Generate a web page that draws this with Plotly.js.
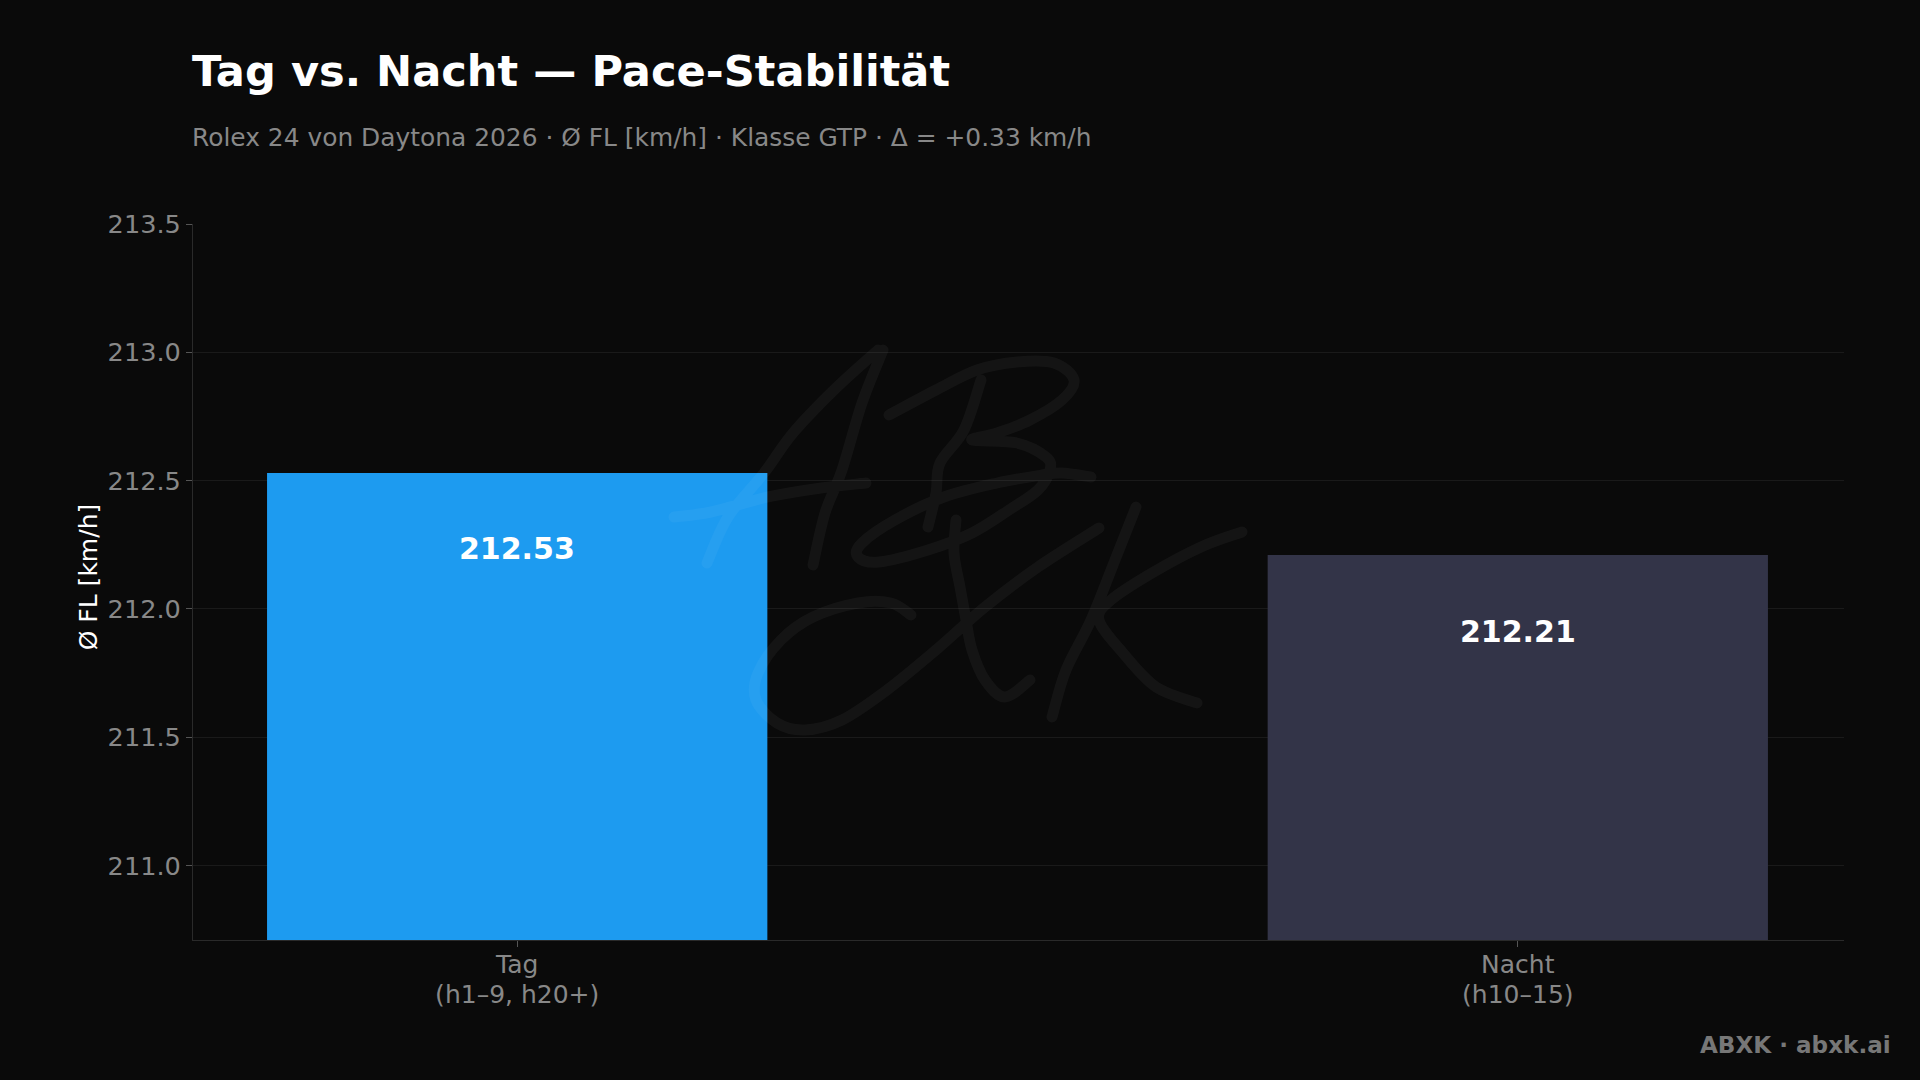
<!DOCTYPE html>
<html><head><meta charset="utf-8">
<script src="https://cdn.plot.ly/plotly-3.0.1.min.js"></script>
<style>html,body{margin:0;padding:0;background:#0a0a0a}
.shapelayer path{stroke-linecap:round;stroke-linejoin:round}</style></head>
<body><div id="chart" style="width:1920px;height:1080px"></div>
<script>
const categories = ['Tag<br>(h1–9, h20+)', 'Nacht<br>(h10–15)'];
const paceValues = [212.53, 212.21];
const valueLabels = ['212.53', '212.21'];
const barColors = ['#1d9bf0', '#333448'];
const yTicks = [211.0, 211.5, 212.0, 212.5, 213.0, 213.5];
const font = 'DejaVu Sans';
const W = 1920, H = 1080, M = {l:193,r:76,t:224,b:140};

// Background signature watermark, strokes traced in page pixels
const signatureStrokes = [
 [[878,350],[834,390],[793,433],[764,473],[728,517],[707,563]],
 [[883,350],[862,403],[842,470],[825,513],[813,565]],
 [[674,517],[711,512],[768,497],[821,488],[866,483]],
 [[889,415],[936,390],[977,370],[1017,362],[1054,363],[1074,380],[1062,400],[1030,420],[997,433],[972,440],[1017,443],[1046,457],[1050,470],[1038,490],[1009,510],[972,533],[928,550],[879,562],[858,557],[862,543],[895,520],[944,497],[997,483],[1042,475],[1062,473],[1091,477]],
 [[981,380],[964,430],[940,463],[936,493],[928,527]],
 [[911,615],[891,603],[858,603],[813,617],[781,640],[758,673],[756,700],[777,723],[805,730],[842,720],[887,690],[936,650],[985,607],[1038,567],[1099,528]],
 [[956,520],[954,553],[960,587],[966,620],[972,650],[985,680],[1005,697],[1030,680]],
 [[1136,507],[1115,560],[1091,620],[1066,670],[1052,717]],
 [[1242,532],[1201,547],[1152,573],[1111,600],[1099,620],[1123,653],[1156,687],[1197,703]]
];
function strokePath(pts){
  const pw = W-M.l-M.r, ph = H-M.t-M.b;
  const X = p => ((p[0]-M.l)/pw).toFixed(5), Y = p => ((H-M.b-p[1])/ph).toFixed(5);
  let d = 'M' + X(pts[0]) + ',' + Y(pts[0]);
  for (let i=0;i<pts.length-1;i++){
    const p0=pts[Math.max(i-1,0)],p1=pts[i],p2=pts[i+1],p3=pts[Math.min(i+2,pts.length-1)];
    const c1=[p1[0]+(p2[0]-p0[0])/6,p1[1]+(p2[1]-p0[1])/6], c2=[p2[0]-(p3[0]-p1[0])/6,p2[1]-(p3[1]-p1[1])/6];
    d += ' C'+X(c1)+','+Y(c1)+' '+X(c2)+','+Y(c2)+' '+X(p2)+','+Y(p2);
  }
  return d;
}
const data = [{type:'bar', x:[0,1], y:paceValues, width:0.5, marker:{color:barColors,line:{width:0}},
  showlegend:false, hoverinfo:'skip'}];
const layout = {width:W,height:H,paper_bgcolor:'#0a0a0a',plot_bgcolor:'#0a0a0a',
 margin:M,showlegend:false,
 font:{family:font,color:'#888'},
 xaxis:{range:[-0.324,1.326],tickmode:'array',tickvals:[0,1],ticktext:categories,tickfont:{size:25,color:'#888',family:font},
   showgrid:false,zeroline:false,showline:true,linecolor:'#2a2a2a',ticks:'outside',ticklen:6,tickcolor:'#555',tickwidth:1,ticklabelstandoff:-4},
 yaxis:{range:[210.71,213.5],tickmode:'array',tickvals:yTicks,ticktext:yTicks.map(v=>v.toFixed(1)),tickfont:{size:25.6,color:'#888',family:font},
   gridcolor:'#1a1a1a',gridwidth:1,zeroline:false,showline:true,linecolor:'#2a2a2a',ticks:'outside',ticklen:6,tickcolor:'#555',
   title:{text:'Ø FL [km/h]',font:{size:25,color:'#fff',family:font},standoff:4}},
 shapes:[{type:'path',xref:'paper',yref:'paper',layer:'above',
   path:signatureStrokes.map(strokePath).join(' '),
   line:{color:'rgba(255,255,255,0.045)',width:11}}],
 annotations:[
  {xref:'paper',yref:'paper',x:0,y:1,xanchor:'left',yanchor:'middle',yshift:153,xshift:-3,showarrow:false,text:'<b>Tag vs. Nacht — Pace-Stabilität</b>',font:{size:43.15,color:'#fff',family:font}},
  {xref:'paper',yref:'paper',x:0,y:1,xanchor:'left',yanchor:'middle',yshift:87,xshift:-3,showarrow:false,text:'Rolex 24 von Daytona 2026 · Ø FL [km/h] · Klasse GTP · Δ = +0.33 km/h',font:{size:24.9,color:'#888',family:font}},
  {xref:'paper',yref:'paper',x:1,y:0,xanchor:'right',yanchor:'middle',xshift:49,yshift:-105,showarrow:false,text:'<b>ABXK · abxk.ai</b>',font:{size:23.1,color:'#777',family:font}},
  ...paceValues.map((v,i)=>({xref:'x',yref:'y',x:i,y:v,yanchor:'middle',xanchor:'center',yshift:-76,showarrow:false,
     text:'<b>'+valueLabels[i]+'</b>',font:{size:30,color:'#fff',family:font}}))
 ]};
Plotly.newPlot('chart',data,layout,{displayModeBar:false}).then(()=>{
  // Tighten the two-line tick label spacing and centre the y title as in the reference
  document.querySelectorAll('.xtick text tspan.line').forEach(t=>{
    if (parseFloat(t.getAttribute('dy'))>0) t.setAttribute('dy','29.5');
  });
  const yt=document.querySelector('.ytitle');
  if (yt) yt.setAttribute('transform','translate(2,-5) '+(yt.getAttribute('transform')||''));
});
</script></body></html>
